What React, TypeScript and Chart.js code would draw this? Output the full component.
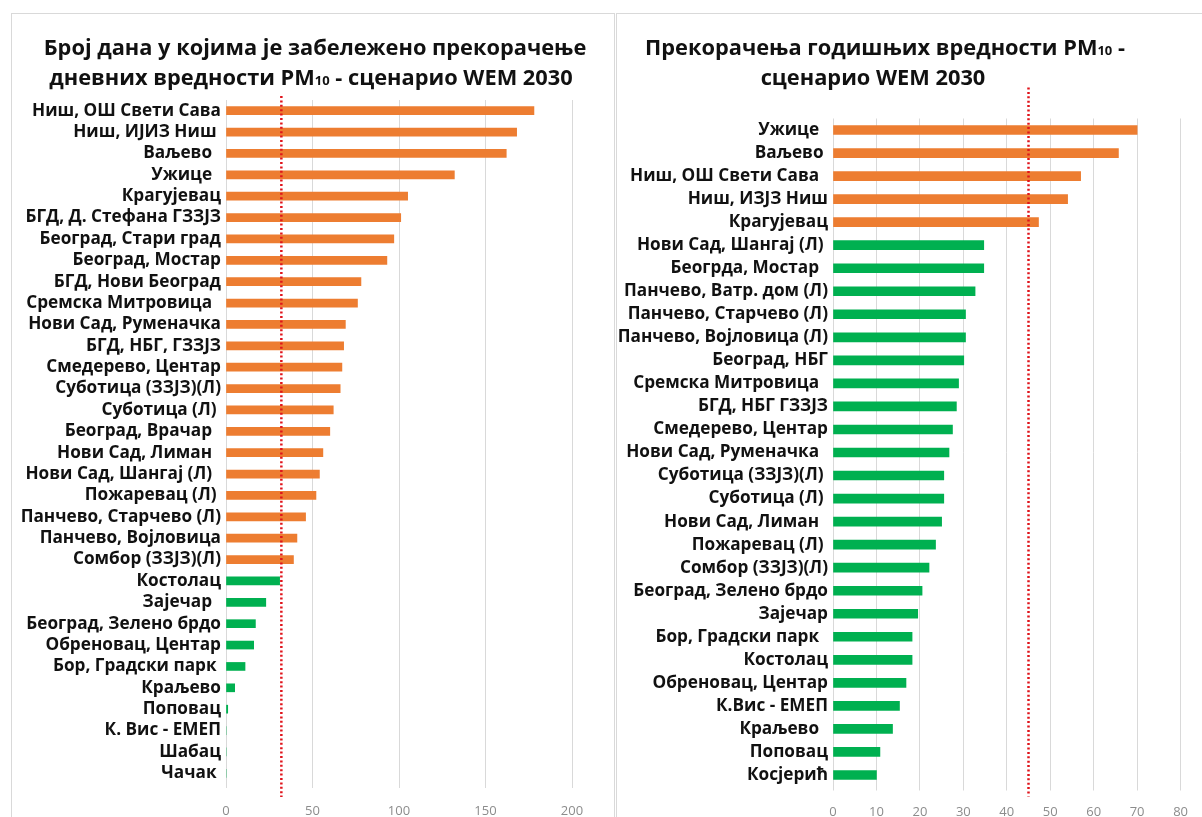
import React, { useEffect, useRef } from "react";
import { Chart, registerables } from "chart.js";

Chart.register(...registerables);

// ---------- data ----------
const dailyCategories = [
  "Ниш, ОШ Свети Сава",
  "Ниш, ИЈИЗ Ниш ",
  "Ваљево  ",
  "Ужице  ",
  "Крагујевац",
  "БГД, Д. Стефана ГЗЗЈЗ",
  "Београд, Стари град",
  "Београд, Мостар",
  "БГД, Нови Београд",
  "Сремска Митровица  ",
  "Нови Сад, Руменачка",
  "БГД, НБГ, ГЗЗЈЗ",
  "Смедерево, Центар",
  "Суботица (ЗЗЈЗ)(Л)",
  "Суботица (Л) ",
  "Београд, Врачар  ",
  "Нови Сад, Лиман  ",
  "Нови Сад, Шангај (Л)  ",
  "Пожаревац (Л) ",
  "Панчево, Старчево (Л)",
  "Панчево, Војловица",
  "Сомбор (ЗЗЈЗ)(Л)",
  "Костолац",
  "Зајечар  ",
  "Београд, Зелено брдо",
  "Обреновац, Центар",
  "Бор, Градски парк ",
  "Краљево",
  "Поповац",
  "К. Вис - ЕМЕП",
  "Шабац",
  "Чачак ",
];
const dailyValues = [
  178, 168, 162, 132, 105, 101, 97, 93, 78, 76, 69, 68, 67, 66, 62, 60, 56, 54,
  52, 46, 41, 39, 31, 23, 17, 16, 11, 5, 1, 0, 0, 0,
];
const dailyLimit = 32;
const dailyTicks = [0, 50, 100, 150, 200];

const annualCategories = [
  "Ужице  ",
  "Ваљево ",
  "Ниш, ОШ Свети Сава  ",
  "Ниш, ИЗЈЗ Ниш",
  "Крагујевац",
  "Нови Сад, Шангај (Л) ",
  "Беогрда, Мостар  ",
  "Панчево, Ватр. дом (Л)",
  "Панчево, Старчево (Л)",
  "Панчево, Војловица (Л)",
  "Београд, НБГ",
  "Сремска Митровица  ",
  "БГД, НБГ ГЗЗЈЗ",
  "Смедерево, Центар",
  "Нови Сад, Руменачка  ",
  "Суботица (ЗЗЈЗ)(Л) ",
  "Суботица (Л) ",
  "Нови Сад, Лиман  ",
  "Пожаревац (Л) ",
  "Сомбор (ЗЗЈЗ)(Л)",
  "Београд, Зелено брдо",
  "Зајечар",
  "Бор, Градски парк  ",
  "Костолац",
  "Обреновац, Центар",
  "К.Вис - ЕМЕП",
  "Краљево  ",
  "Поповац",
  "Косјерић",
];
const annualValues = [
  70, 65.7, 57, 54, 47.3, 34.7, 34.7, 32.7, 30.5, 30.5, 30.1, 28.9, 28.4, 27.5,
  26.7, 25.5, 25.5, 25, 23.6, 22.1, 20.5, 19.5, 18.2, 18.2, 16.8, 15.3, 13.7,
  10.8, 10,
];
const annualLimit = 45;
const annualTicks = [0, 10, 20, 30, 40, 50, 60, 70, 80];

type Seg = { text: string; small?: boolean };
const dailyTitle: Seg[][] = [
  [{ text: "Број дана у којима је забележено прекорачење" }],
  [
    { text: "дневних вредности PM" },
    { text: "10", small: true },
    { text: " - сценарио WEM 2030" },
  ],
];
const annualTitle: Seg[][] = [
  [
    { text: "Прекорачења годишњих вредности PM" },
    { text: "10", small: true },
    { text: " -" },
  ],
  [{ text: "сценарио WEM 2030" }],
];

// ---------- styles ----------
const ORANGE = "#ED7D31";
const GREEN = "#00B050";
const FONT = "'Open Sans', 'Noto Sans', sans-serif";

type PanelCfg = {
  categories: string[];
  values: number[];
  limit: number;
  ticks: number[];
  title: Seg[][];
  titleCenters: number[];
  titleYs: number[];
  width: number;
  height: number;
  yAxisWidth: number;
  padTop: number;
  padRight: number;
  xAxisHeight: number;
  tickPad: number;
  barThickness: number;
  limitTopExt: number;
  limitBottomExt: number;
};

function makeTitlePlugin(lines: Seg[][], centers: number[], ys: number[]) {
  return {
    id: "panelTitle",
    afterDraw(chart: any) {
      const ctx = chart.ctx as CanvasRenderingContext2D;
      const size = 21.8;
      const small = 13;
      const big = `bold ${size}px ${FONT}`;
      const sm = `bold ${small}px ${FONT}`;
      ctx.save();
      ctx.fillStyle = "#111111";
      ctx.textAlign = "left";
      ctx.textBaseline = "alphabetic";
      lines.forEach((segs, i) => {
        const widths = segs.map((s) => {
          ctx.font = s.small ? sm : big;
          return ctx.measureText(s.text).width;
        });
        const total = widths.reduce((a, b) => a + b, 0);
        let x = centers[i] - total / 2;
        const y = ys[i] + size * 0.36;
        segs.forEach((s, j) => {
          ctx.font = s.small ? sm : big;
          ctx.fillText(s.text, x, y);
          x += widths[j];
        });
      });
      ctx.restore();
    },
  };
}

function makeLimitPlugin(limit: number, topExt: number, bottomExt: number) {
  return {
    id: "limitLine",
    afterDatasetsDraw(chart: any) {
      const ctx = chart.ctx as CanvasRenderingContext2D;
      const x = chart.scales.x.getPixelForValue(limit);
      const { top, bottom } = chart.chartArea;
      ctx.save();
      ctx.strokeStyle = "#E0141B";
      ctx.lineWidth = 2.5;
      ctx.setLineDash([2, 2.4]);
      ctx.beginPath();
      ctx.moveTo(x, top - topExt);
      ctx.lineTo(x, bottom + bottomExt);
      ctx.stroke();
      ctx.restore();
    },
  };
}

function Panel({ cfg, left }: { cfg: PanelCfg; left: number }) {
  const ref = useRef<HTMLCanvasElement>(null);
  useEffect(() => {
    if (!ref.current) return;
    const chart = new Chart(ref.current, {
      type: "bar",
      data: {
        labels: cfg.categories,
        datasets: [
          {
            data: cfg.values,
            backgroundColor: cfg.values.map((v) => (v > cfg.limit ? ORANGE : GREEN)),
            barThickness: cfg.barThickness,
            borderWidth: 0,
          },
        ],
      },
      options: {
        indexAxis: "y",
        animation: false,
        responsive: false,
        maintainAspectRatio: false,
        layout: {
          padding: { top: cfg.padTop, right: cfg.padRight, left: 0, bottom: 0 },
        },
        plugins: {
          legend: { display: false },
          tooltip: { enabled: false },
          title: { display: false },
        },
        scales: {
          x: {
            min: cfg.ticks[0],
            max: cfg.ticks[cfg.ticks.length - 1],
            afterBuildTicks: (s: any) => {
              s.ticks = cfg.ticks.map((v) => ({ value: v }));
            },
            ticks: {
              color: "#8c8c8c",
              font: { size: 13, family: FONT },
              padding: cfg.tickPad,
              maxRotation: 0,
            },
            grid: { color: "#D9D9D9", lineWidth: 1, tickLength: 4, drawTicks: true },
            border: { display: false },
            afterFit: (s: any) => {
              s.height = cfg.xAxisHeight;
            },
          },
          y: {
            ticks: {
              autoSkip: false,
              color: "#111111",
              font: { size: 17.2, family: FONT, weight: "bold" },
              padding: 5,
            },
            grid: { display: false, drawTicks: false },
            border: { display: false },
            afterFit: (s: any) => {
              s.width = cfg.yAxisWidth;
            },
          },
        },
      },
      plugins: [
        makeLimitPlugin(cfg.limit, cfg.limitTopExt, cfg.limitBottomExt),
        makeTitlePlugin(cfg.title, cfg.titleCenters, cfg.titleYs),
      ],
    } as any);
    return () => chart.destroy();
  }, [cfg]);
  return (
    <canvas
      ref={ref}
      width={cfg.width}
      height={cfg.height}
      style={{ position: "absolute", left, top: 0, width: cfg.width, height: cfg.height }}
    />
  );
}

const dailyCfg: PanelCfg = {
  categories: dailyCategories,
  values: dailyValues,
  limit: dailyLimit,
  ticks: dailyTicks,
  title: dailyTitle,
  titleCenters: [315, 311],
  titleYs: [47, 77],
  width: 615,
  height: 817,
  yAxisWidth: 226,
  padTop: 100,
  padRight: 43,
  xAxisHeight: 33,
  tickPad: 15,
  barThickness: 8,
  limitTopExt: 4,
  limitBottomExt: 13,
};

const annualCfg: PanelCfg = {
  categories: annualCategories,
  values: annualValues,
  limit: annualLimit,
  ticks: annualTicks,
  title: annualTitle,
  titleCenters: [269, 257],
  titleYs: [47, 77],
  width: 586,
  height: 817,
  yAxisWidth: 217,
  padTop: 118.5,
  padRight: 12,
  xAxisHeight: 30.5,
  tickPad: 14,
  barThickness: 9,
  limitTopExt: 31,
  limitBottomExt: 10,
};

export default function App() {
  return (
    <div
      style={{
        position: "fixed",
        left: 0,
        top: 0,
        width: 1202,
        height: 817,
        background: "#ffffff",
        overflow: "hidden",
      }}
    >
      <div
        style={{
          position: "absolute",
          left: 11,
          top: 13,
          width: 602,
          height: 830,
          border: "1px solid #d9d9d9",
        }}
      />
      <div
        style={{
          position: "absolute",
          left: 616,
          top: 13,
          width: 620,
          height: 830,
          border: "1px solid #d9d9d9",
        }}
      />
      <Panel cfg={dailyCfg} left={0} />
      <Panel cfg={annualCfg} left={616} />
    </div>
  );
}
